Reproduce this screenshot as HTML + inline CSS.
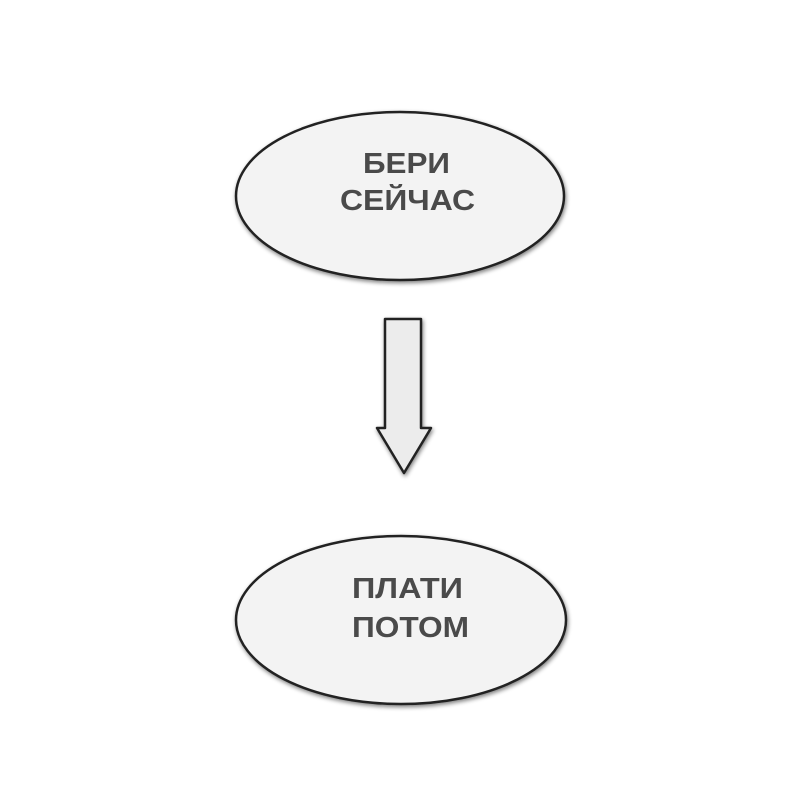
<!DOCTYPE html>
<html><head><meta charset="utf-8"><style>
html,body{margin:0;padding:0;background:#fff;width:800px;height:800px;overflow:hidden}
</style></head><body>
<svg width="800" height="800" viewBox="0 0 800 800" xmlns="http://www.w3.org/2000/svg">
<defs><filter id="s" x="-10%" y="-10%" width="120%" height="130%"><feGaussianBlur in="SourceAlpha" stdDeviation="2"/><feOffset dx="1" dy="2"/><feComponentTransfer><feFuncA type="linear" slope="0.5"/></feComponentTransfer><feMerge><feMergeNode/><feMergeNode in="SourceGraphic"/></feMerge></filter></defs>
<g filter="url(#s)">
<ellipse cx="400" cy="196" rx="164" ry="84" fill="#f3f3f3" stroke="#222" stroke-width="2.5"/>
<ellipse cx="401" cy="620" rx="165" ry="84" fill="#f3f3f3" stroke="#222" stroke-width="2.5"/>
<path d="M385 319 L421 319 L421 428 L431 428 L404 473 L377 428 L385 428 Z" fill="#ececec" stroke="#222" stroke-width="2.5" stroke-linejoin="round"/>
</g>
<g font-family="Liberation Sans, sans-serif" font-weight="bold" font-size="29" fill="#4a4a4a" lengthAdjust="spacingAndGlyphs">
<text x="363" y="173" textLength="87" lengthAdjust="spacingAndGlyphs">БЕРИ</text>
<text x="340" y="210" textLength="135" lengthAdjust="spacingAndGlyphs">СЕЙЧАС</text>
<text x="352" y="598" textLength="111" lengthAdjust="spacingAndGlyphs">ПЛАТИ</text>
<text x="352" y="637" textLength="117" lengthAdjust="spacingAndGlyphs">ПОТОМ</text>
</g>
</svg>
</body></html>
